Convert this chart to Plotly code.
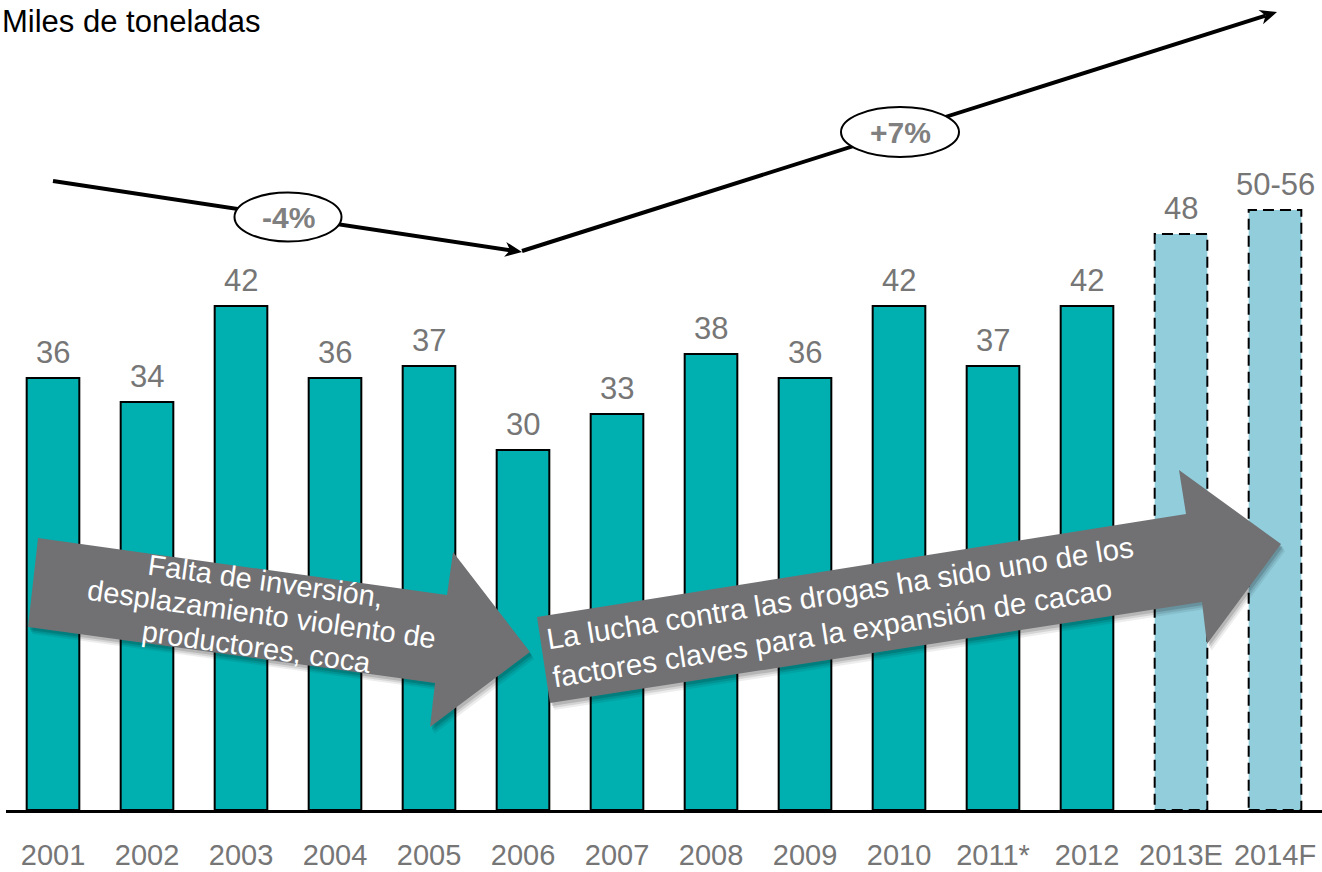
import math
import plotly.graph_objects as go

# Cocoa production, thousand tonnes
years = ["2001", "2002", "2003", "2004", "2005", "2006", "2007",
         "2008", "2009", "2010", "2011*", "2012", "2013E", "2014F"]
production = [36, 34, 42, 36, 37, 30, 33, 38, 36, 42, 37, 42, 48, 50]
value_labels = ["36", "34", "42", "36", "37", "30", "33", "38", "36",
                "42", "37", "42", "48", "50-56"]
is_estimate = [False] * 12 + [True] * 2

TEAL = "#00B0B0"
LIGHT_BLUE = "#92CDDC"
ARROW_GRAY = "#717174"
LABEL_GRAY = "#767676"
FONT = "Liberation Sans, Arial, sans-serif"

# plot area geometry (pixels)
FIG_W, FIG_H = 1322, 872
M_L, M_R, M_T, M_B = 6, 0, 0, 62
PLOT_W = FIG_W - M_L - M_R
PLOT_H = FIG_H - M_T - M_B
BAR_WIDTH = 0.56
Y_MAX = 67.5

pos = list(range(len(years)))


def px(x):
    return (x - M_L) / PLOT_W


def py(y):
    return (PLOT_H + M_T - y) / PLOT_H


def poly_path(points):
    pts = [f"{px(x):.5f},{py(y):.5f}" for x, y in points]
    return "M " + " L ".join(pts) + " Z"


def head_path(tail, tip, length=17, half=7.5):
    dx, dy = tip[0] - tail[0], tip[1] - tail[1]
    n = math.hypot(dx, dy)
    ux, uy = dx / n, dy / n
    bx, by = tip[0] - length * ux, tip[1] - length * uy
    back = (tip[0] - (length - 5) * ux, tip[1] - (length - 5) * uy)
    return poly_path([tip, (bx - half * uy, by + half * ux), back,
                      (bx + half * uy, by - half * ux)])


fig = go.Figure()
fig.add_trace(go.Bar(
    x=pos,
    y=production,
    width=BAR_WIDTH,
    marker=dict(
        color=[LIGHT_BLUE if e else TEAL for e in is_estimate],
        line=dict(color="black", width=[0 if e else 2 for e in is_estimate]),
    ),
    customdata=years,
    hovertemplate="%{customdata}: %{y}<extra></extra>",
))

shapes = []
# dashed outlines for estimated / forecast years
for i, v, e in zip(pos, production, is_estimate):
    if e:
        shapes.append(dict(
            type="rect", xref="x", yref="y",
            x0=i - BAR_WIDTH / 2, x1=i + BAR_WIDTH / 2, y0=0, y1=v,
            line=dict(color="black", width=2, dash="11px,6px"),
            fillcolor="rgba(0,0,0,0)", layer="above",
        ))

# big grey block arrows with a soft drop shadow
arrow_left = [(38, 538), (447, 595), (453, 552), (530, 652),
              (430, 727), (435, 683), (28, 627)]
arrow_right = [(537, 617), (1186, 514), (1179, 470), (1281, 544),
               (1207, 644), (1202, 602), (550, 703)]
for poly in (arrow_left, arrow_right):
    for off, op in ((7, 0.07), (5, 0.10), (3, 0.14)):
        shifted = [(x + off * 0.6, y + off) for x, y in poly]
        shapes.append(dict(type="path", xref="paper", yref="paper",
                           path=poly_path(shifted), fillcolor="black",
                           opacity=op, line=dict(width=0), layer="above"))
    shapes.append(dict(type="path", xref="paper", yref="paper",
                       path=poly_path(poly), fillcolor=ARROW_GRAY,
                       line=dict(width=0), layer="above"))

# trend lines
down_tail, down_tip = (53, 181), (522, 252)
up_tail, up_tip = (522, 251), (1277, 12)
for tail, tip in ((down_tail, down_tip), (up_tail, up_tip)):
    n = math.hypot(tip[0] - tail[0], tip[1] - tail[1])
    ux, uy = (tip[0] - tail[0]) / n, (tip[1] - tail[1]) / n
    end = (tip[0] - 12 * ux, tip[1] - 12 * uy)
    shapes.append(dict(type="line", xref="paper", yref="paper",
                       x0=px(tail[0]), y0=py(tail[1]),
                       x1=px(end[0]), y1=py(end[1]),
                       line=dict(color="black", width=4), layer="above"))
    shapes.append(dict(type="path", xref="paper", yref="paper",
                       path=head_path(tail, tip), fillcolor="black",
                       line=dict(width=0), layer="above"))

# growth-rate ellipses
for cx, cy, w, h in ((288, 217, 107, 49), (900, 132, 118, 50)):
    shapes.append(dict(type="circle", xref="paper", yref="paper",
                       x0=px(cx - w / 2), x1=px(cx + w / 2),
                       y0=py(cy + h / 2), y1=py(cy - h / 2),
                       fillcolor="white", line=dict(color="black", width=2),
                       layer="above"))

annotations = []
# value labels over the bars
for i, v, lab in zip(pos, production, value_labels):
    annotations.append(dict(
        x=i, y=v, xref="x", yref="y", text=lab, showarrow=False,
        yanchor="middle", yshift=26,
        font=dict(family=FONT, size=31, color=LABEL_GRAY),
    ))

annotations.append(dict(
    x=px(0), y=py(22), xref="paper", yref="paper", xanchor="left",
    yanchor="middle", text="Miles de toneladas", showarrow=False,
    font=dict(family=FONT, size=31, color="black"),
))

for txt, cx, cy in (("-4%", 288, 217), ("+7%", 900, 132)):
    annotations.append(dict(
        x=px(cx), y=py(cy), xref="paper", yref="paper", text=f"<b>{txt}</b>",
        showarrow=False, xanchor="center", yanchor="middle",
        font=dict(family=FONT, size=30, color="#808080"),
    ))

# text on the left block arrow, one line at a time for tight spacing
left_lines = ["Falta de inversión,", "desplazamiento violento de",
              "productores, coca"]
ang = 8
cx, cy = 261, 614
step = 33
for k, line in enumerate(left_lines):
    d = (k - 1) * step
    lx = cx - d * math.sin(math.radians(ang))
    ly = cy + d * math.cos(math.radians(ang))
    annotations.append(dict(
        x=px(lx), y=py(ly), xref="paper", yref="paper", text=line,
        showarrow=False, textangle=ang, xanchor="center", yanchor="middle",
        font=dict(family=FONT, size=29, color="white"),
    ))

annotations.append(dict(
    x=px(843), y=py(611), xref="paper", yref="paper",
    text="La lucha contra las drogas ha sido uno de los<br>"
         "factores claves para la expansión de cacao",
    showarrow=False, textangle=-9, align="left",
    xanchor="center", yanchor="middle",
    font=dict(family=FONT, size=29.5, color="white"),
))

fig.update_layout(
    width=FIG_W, height=FIG_H,
    margin=dict(l=M_L, r=M_R, t=M_T, b=M_B),
    paper_bgcolor="white", plot_bgcolor="white",
    showlegend=False,
    font=dict(family=FONT),
    shapes=shapes, annotations=annotations,
    xaxis=dict(
        range=[-0.5, len(years) - 0.5], tickmode="array",
        tickvals=pos, ticktext=years, automargin=False,
        showline=True, linecolor="black", linewidth=3,
        ticks="", showgrid=False, zeroline=False,
        tickfont=dict(family=FONT, size=29, color=LABEL_GRAY),
        ticklabelstandoff=17,
    ),
    yaxis=dict(visible=False, range=[0, Y_MAX], showgrid=False,
               zeroline=False, automargin=False),
)

fig.write_html("out.html", config={"displayModeBar": False})
